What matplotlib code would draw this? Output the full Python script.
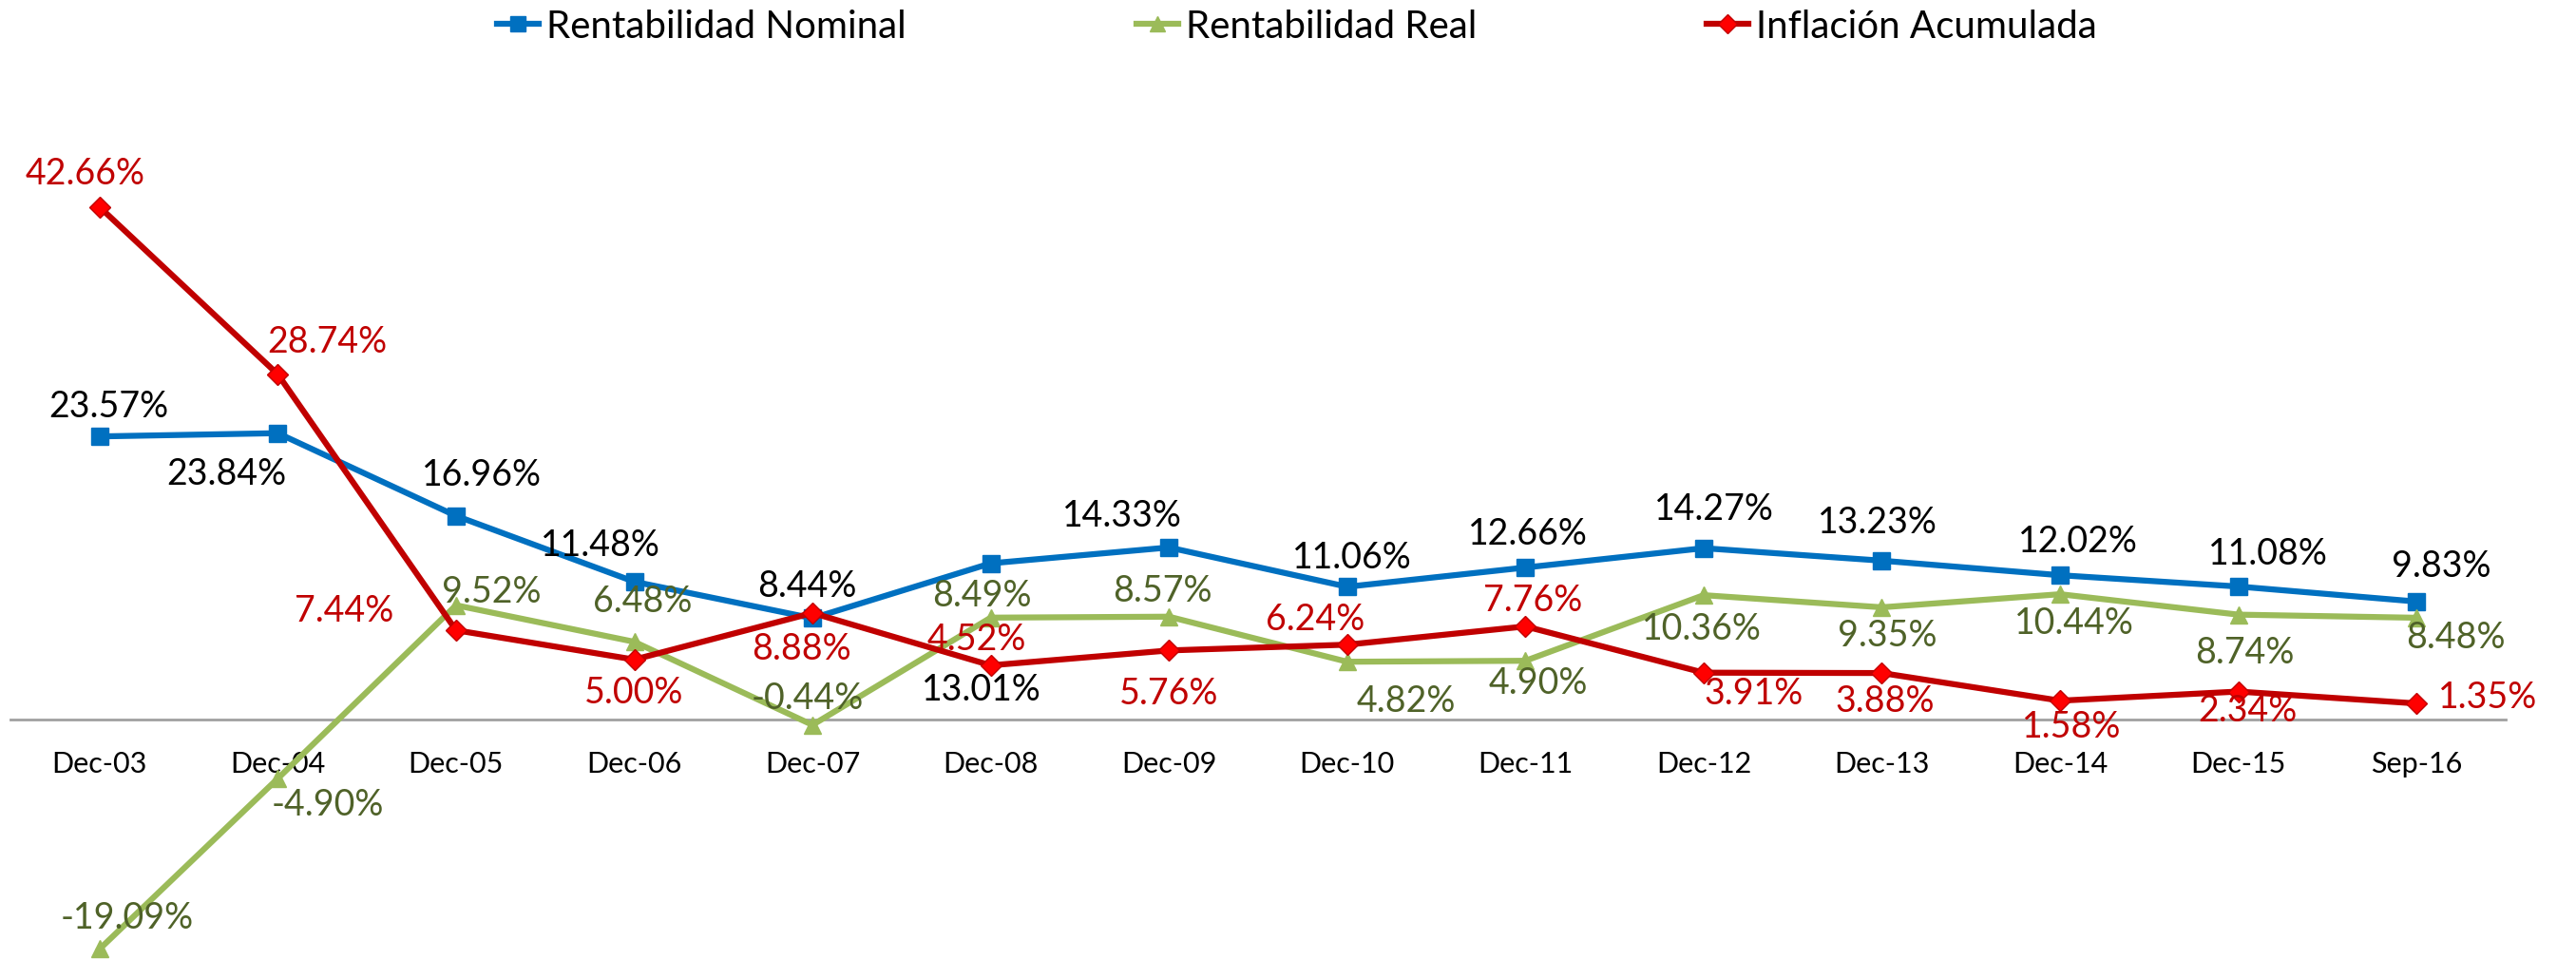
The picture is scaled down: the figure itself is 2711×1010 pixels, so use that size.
import matplotlib
matplotlib.use("Agg")
import matplotlib.pyplot as plt

plt.rcParams['font.family'] = ['Lato', 'DejaVu Sans']

periods = ["Dec-03", "Dec-04", "Dec-05", "Dec-06", "Dec-07", "Dec-08", "Dec-09",
           "Dec-10", "Dec-11", "Dec-12", "Dec-13", "Dec-14", "Dec-15", "Sep-16"]
nominal = [23.57, 23.84, 16.96, 11.48, 8.44, 13.01, 14.33, 11.06, 12.66, 14.27, 13.23, 12.02, 11.08, 9.83]
real = [-19.09, -4.90, 9.52, 6.48, -0.44, 8.49, 8.57, 4.82, 4.90, 10.36, 9.35, 10.44, 8.74, 8.48]
inflation = [42.66, 28.74, 7.44, 5.00, 8.88, 4.52, 5.76, 6.24, 7.76, 3.91, 3.88, 1.58, 2.34, 1.35]

# label offsets in pixels (dx right, dy down) as placed in the original
nom_off = [(10, -31), (-54, 43), (27, -43), (-36, -38), (-6, -33), (-10, 133), (-49, -33),
           (5, -30), (3, -35), (11, -41), (-5, -40), (19, -35), (31, -34), (26, -37)]
real_off = [(29, -32), (52, 28), (37, -14), (9, -42), (-5, -28), (-9, -23), (-7, -27),
            (62, 42), (13, 24), (-2, 36), (6, 30), (15, 31), (7, 40), (41, 21)]
infl_off = [(-15, -35), (52, -34), (-118, -20), (0, 35), (-12, 38), (-15, -27), (0, 46),
            (-34, -26), (8, -27), (53, 22), (3, 30), (12, 28), (10, 20), (75, -6)]

W, H = 2711, 1010
fig = plt.figure(figsize=(W / 100, H / 100), dpi=100)
ax = fig.add_axes([11 / W, 0, 2626 / W, 885 / H])

for s in ['top', 'right', 'left']:
    ax.spines[s].set_visible(False)
ax.spines['bottom'].set_position(('data', 0))
ax.spines['bottom'].set_color('#A0A0A0')
ax.spines['bottom'].set_linewidth(2)

x = list(range(len(periods)))
ax.plot(x, nominal, color='#0070C0', lw=4.5, marker='s', ms=13, mfc='#0070C0', mec='#0070C0',
        label='Rentabilidad Nominal', clip_on=False, zorder=3)
ax.plot(x, real, color='#9BBB59', lw=4.5, marker='^', ms=13, mfc='#9BBB59', mec='#9BBB59',
        label='Rentabilidad Real', clip_on=False, zorder=3)
ax.plot(x, inflation, color='#C00000', lw=4.5, marker='D', ms=11, mfc='#FF0000', mec='#C00000',
        mew=1, label='Inflación Acumulada', clip_on=False, zorder=4)

for vals, offs, col in [(nominal, nom_off, 'black'), (real, real_off, '#4F6228'),
                        (inflation, infl_off, '#C00000')]:
    for i, (v, (dx, dy)) in enumerate(zip(vals, offs)):
        ax.annotate(f"{v:.2f}%", (i, v), xytext=(dx, -dy), textcoords='offset pixels',
                    ha='center', va='center', fontsize=27, color=col, zorder=5)

ax.set_xlim(-0.5, len(periods) - 0.5)
ax.set_ylim(-20, 50)
ax.set_xticks(x)
ax.set_xticklabels(periods)
ax.set_yticks([])
ax.tick_params(axis='x', length=0, pad=24, labelsize=22)
ax.patch.set_alpha(0)

fig.legend(loc='center', bbox_to_anchor=(1365 / W, 1 - 28 / H), ncol=3, frameon=False,
           fontsize=29, handlelength=1.1, handletextpad=0.2, columnspacing=6.0,
           markerscale=0.9)

fig.savefig("out.png", dpi=100)
